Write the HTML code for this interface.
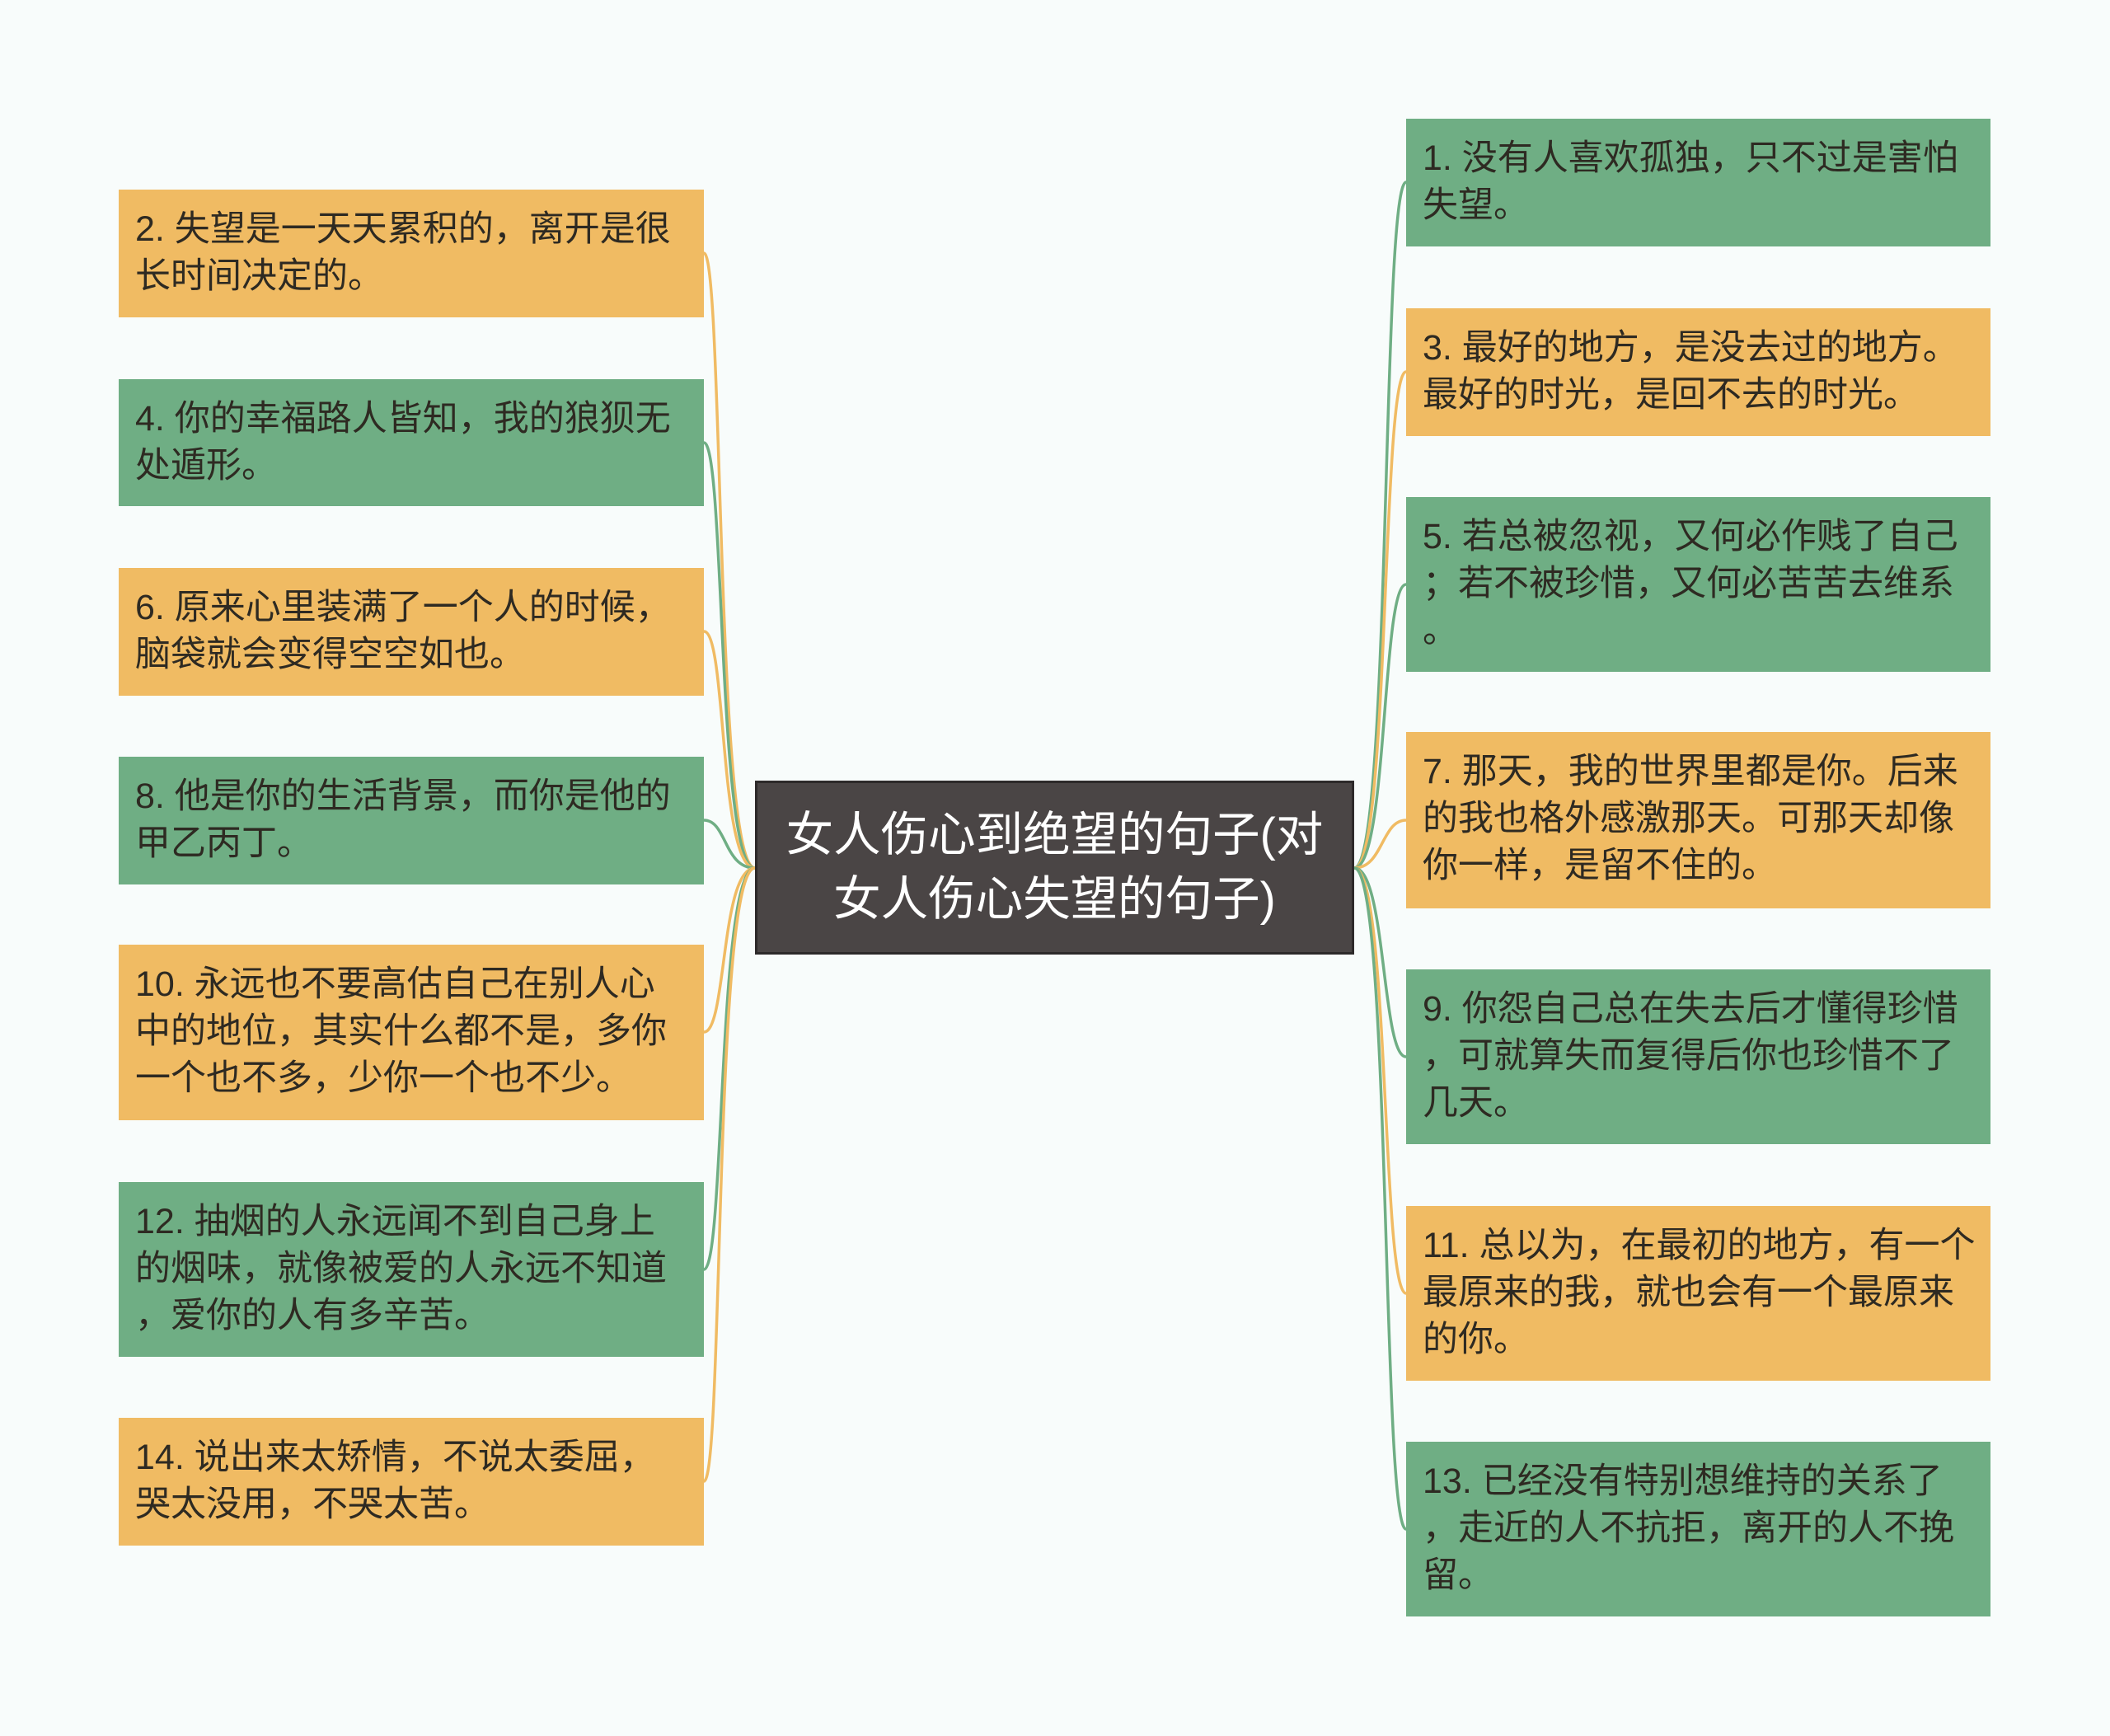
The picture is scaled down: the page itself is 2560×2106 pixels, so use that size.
<!DOCTYPE html>
<html><head><meta charset="utf-8"><style>
body{margin:0;width:2560px;height:2106px;background:#f8fcfb;position:relative;overflow:hidden;font-family:"Liberation Sans","Noto Sans CJK SC",sans-serif}
.b{position:absolute;box-sizing:border-box;padding:20px 0 0 20px;font-size:43px;line-height:57px;color:#2e2a22;white-space:nowrap}
.o{background:#f0bb63}.g{background:#6fae84}
.L{left:144px;width:710px}.R{left:1706px;width:709px}
#c{position:absolute;left:916px;top:947px;width:727px;height:211px;background:#4a4545;border:3px solid #2d2a2a;box-sizing:border-box;color:#fff;font-size:57.5px;line-height:78px;text-align:center;padding-top:24px}
svg{position:absolute;left:0;top:0}
</style></head><body>
<svg width="2560" height="2106" fill="none" stroke-width="3.5">
<path stroke="#f0bb63" d="M916 1053 C868 1053 878 307 854 307"/>
<path stroke="#6fae84" d="M916 1053 C870 1053 880 537 854 537"/>
<path stroke="#f0bb63" d="M916 1053 C872 1053 882 766 854 766"/>
<path stroke="#6fae84" d="M916 1053 C878 1053 882 995 854 995"/>
<path stroke="#f0bb63" d="M916 1053 C874 1053 882 1252 854 1252"/>
<path stroke="#6fae84" d="M916 1053 C870 1053 880 1540 854 1540"/>
<path stroke="#f0bb63" d="M916 1053 C866 1053 878 1797 854 1797"/>
<path stroke="#6fae84" d="M1643 1053 C1688 1053 1676 221 1706 221"/>
<path stroke="#f0bb63" d="M1643 1053 C1686 1053 1676 451 1706 451"/>
<path stroke="#6fae84" d="M1643 1053 C1684 1053 1676 709 1706 709"/>
<path stroke="#f0bb63" d="M1643 1053 C1678 1053 1676 995 1706 995"/>
<path stroke="#6fae84" d="M1643 1053 C1682 1053 1676 1282 1706 1282"/>
<path stroke="#f0bb63" d="M1643 1053 C1686 1053 1676 1569 1706 1569"/>
<path stroke="#6fae84" d="M1643 1053 C1688 1053 1676 1855 1706 1855"/>
</svg>
<div class="b o L" style="top:230px;height:155px">2. 失望是一天天累积的，离开是很<br>长时间决定的。</div>
<div class="b g L" style="top:460px;height:154px">4. 你的幸福路人皆知，我的狼狈无<br>处遁形。</div>
<div class="b o L" style="top:689px;height:155px">6. 原来心里装满了一个人的时候，<br>脑袋就会变得空空如也。</div>
<div class="b g L" style="top:918px;height:155px">8. 他是你的生活背景，而你是他的<br>甲乙丙丁。</div>
<div class="b o L" style="top:1146px;height:213px">10. 永远也不要高估自己在别人心<br>中的地位，其实什么都不是，多你<br>一个也不多，少你一个也不少。</div>
<div class="b g L" style="top:1434px;height:212px">12. 抽烟的人永远闻不到自己身上<br>的烟味，就像被爱的人永远不知道<br>，爱你的人有多辛苦。</div>
<div class="b o L" style="top:1720px;height:155px">14. 说出来太矫情，不说太委屈，<br>哭太没用，不哭太苦。</div>
<div class="b g R" style="top:144px;height:155px">1. 没有人喜欢孤独，只不过是害怕<br>失望。</div>
<div class="b o R" style="top:374px;height:155px">3. 最好的地方，是没去过的地方。<br>最好的时光，是回不去的时光。</div>
<div class="b g R" style="top:603px;height:212px">5. 若总被忽视，又何必作贱了自己<br>；若不被珍惜，又何必苦苦去维系<br>。</div>
<div class="b o R" style="top:888px;height:214px">7. 那天，我的世界里都是你。后来<br>的我也格外感激那天。可那天却像<br>你一样，是留不住的。</div>
<div class="b g R" style="top:1176px;height:212px">9. 你怨自己总在失去后才懂得珍惜<br>，可就算失而复得后你也珍惜不了<br>几天。</div>
<div class="b o R" style="top:1463px;height:212px">11. 总以为，在最初的地方，有一个<br>最原来的我，就也会有一个最原来<br>的你。</div>
<div class="b g R" style="top:1749px;height:212px">13. 已经没有特别想维持的关系了<br>，走近的人不抗拒，离开的人不挽<br>留。</div>
<div id="c">女人伤心到绝望的句子(对<br>女人伤心失望的句子)</div>
</body></html>
